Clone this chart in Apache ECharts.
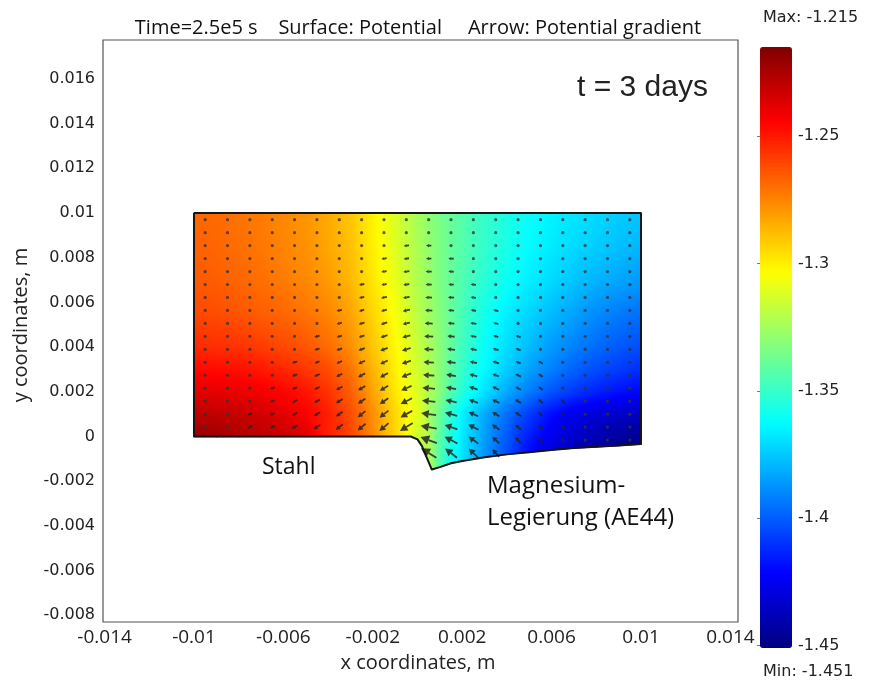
<!DOCTYPE html>
<html><head><meta charset="utf-8">
<script src="https://cdn.jsdelivr.net/npm/echarts@6/dist/echarts.min.js"></script>
<style>html,body{margin:0;padding:0;background:#fff}#c{width:870px;height:684px}</style>
</head><body><div id="c"></div>
<script>
// ---------------- data ----------------
const xTicks = [-0.014, -0.01, -0.006, -0.002, 0.002, 0.006, 0.01, 0.014];
const yTicks = [-0.008, -0.006, -0.004, -0.002, 0, 0.002, 0.004, 0.006, 0.008, 0.01, 0.012, 0.014, 0.016];
const cbTicks = [-1.45, -1.4, -1.35, -1.3, -1.25];
const potMin = -1.451, potMax = -1.215;

// surface nodes (m): columns and row levels; last row = lower boundary of the domain
const xNodes = [-0.01,-0.009,-0.008,-0.007,-0.006,-0.005,-0.004,-0.003,-0.002,-0.0015,-0.001,-0.0005,-0.0003,0,0.0002,0.00064,0.001,0.0015,0.002,0.003,0.004,0.005,0.006,0.007,0.008,0.009,0.01];
const yRows = [0.01, 0.0085, 0.007, 0.0055, 0.004, 0.003, 0.002, 0.001];
const bottomY = [0,0,0,0,0,0,0,0,0,0,0,0,0,-0.00013,-0.00043,-0.00148,-0.00137,-0.0012,-0.0011,-0.00093,-0.0008,-0.0007,-0.0006,-0.00052,-0.00046,-0.0004,-0.00034];
// potential (V) at nodes, rows top -> bottom boundary
const potential = [
 [-1.268,-1.269,-1.271,-1.273,-1.276,-1.279,-1.284,-1.290,-1.301,-1.306,-1.312,-1.318,-1.320,-1.324,-1.326,-1.331,-1.335,-1.339,-1.343,-1.350,-1.356,-1.361,-1.365,-1.368,-1.371,-1.374,-1.376],
 [-1.267,-1.268,-1.270,-1.272,-1.275,-1.278,-1.283,-1.289,-1.300,-1.305,-1.311,-1.317,-1.319,-1.323,-1.325,-1.330,-1.334,-1.339,-1.343,-1.351,-1.357,-1.363,-1.367,-1.371,-1.374,-1.377,-1.379],
 [-1.265,-1.266,-1.268,-1.270,-1.273,-1.276,-1.280,-1.287,-1.298,-1.303,-1.309,-1.315,-1.318,-1.322,-1.324,-1.329,-1.334,-1.339,-1.344,-1.353,-1.360,-1.366,-1.371,-1.376,-1.380,-1.383,-1.386],
 [-1.261,-1.262,-1.264,-1.266,-1.268,-1.271,-1.275,-1.282,-1.294,-1.299,-1.305,-1.312,-1.315,-1.319,-1.322,-1.327,-1.332,-1.339,-1.346,-1.358,-1.366,-1.372,-1.378,-1.384,-1.389,-1.393,-1.396],
 [-1.254,-1.255,-1.256,-1.258,-1.261,-1.264,-1.269,-1.277,-1.290,-1.296,-1.302,-1.309,-1.312,-1.316,-1.319,-1.325,-1.331,-1.340,-1.348,-1.361,-1.370,-1.378,-1.386,-1.392,-1.397,-1.401,-1.404],
 [-1.246,-1.247,-1.248,-1.250,-1.253,-1.257,-1.262,-1.271,-1.286,-1.293,-1.300,-1.307,-1.310,-1.314,-1.317,-1.324,-1.331,-1.341,-1.350,-1.363,-1.374,-1.384,-1.392,-1.399,-1.404,-1.408,-1.411],
 [-1.238,-1.239,-1.240,-1.242,-1.245,-1.249,-1.256,-1.266,-1.282,-1.290,-1.298,-1.305,-1.308,-1.312,-1.315,-1.324,-1.332,-1.344,-1.354,-1.369,-1.382,-1.393,-1.402,-1.409,-1.414,-1.418,-1.421],
 [-1.229,-1.230,-1.231,-1.234,-1.238,-1.244,-1.251,-1.262,-1.277,-1.286,-1.294,-1.302,-1.305,-1.309,-1.313,-1.328,-1.338,-1.353,-1.365,-1.382,-1.396,-1.408,-1.419,-1.426,-1.431,-1.434,-1.436],
 [-1.220,-1.222,-1.226,-1.229,-1.232,-1.237,-1.252,-1.260,-1.276,-1.286,-1.294,-1.303,-1.308,-1.316,-1.321,-1.327,-1.345,-1.360,-1.369,-1.387,-1.404,-1.420,-1.430,-1.437,-1.443,-1.447,-1.450]
];

// potential gradient arrows: grid positions (m), direction (deg) and length (1e-5 m)
const arrowX = [-0.0095,-0.0085,-0.0075,-0.0065,-0.0055,-0.0045,-0.0035,-0.0025,-0.0015,-0.0005,0.0005,0.0015,0.0025,0.0035,0.0045,0.0055,0.0065,0.0075,0.0085,0.0095];
const arrowY = [0.0097,0.00912,0.00854,0.00796,0.00738,0.0068,0.00622,0.00564,0.00506,0.00448,0.0039,0.00332,0.00274,0.00216,0.00158,0.001,0.00042,-0.00016,-0.00074];
const N = null;
const arrowAngle = [
 [182,182,183,183,184,184,185,185,185,184,179,177,175,172,169,165,160,155,150,145],
 [182,183,183,184,184,185,186,186,186,185,179,177,175,172,168,165,160,155,150,145],
 [183,183,184,184,185,186,187,187,187,186,179,177,174,171,168,164,159,154,149,144],
 [183,184,184,185,186,187,188,188,188,187,179,176,174,170,167,163,158,153,148,143],
 [184,185,185,186,187,188,189,190,190,188,179,176,173,170,166,162,157,152,147,142],
 [185,185,186,187,188,189,190,191,191,189,179,176,172,169,165,161,156,151,146,141],
 [185,186,187,188,189,190,192,193,193,190,179,176,172,168,164,160,155,150,145,140],
 [186,187,188,189,190,192,193,195,195,191,178,175,171,167,163,158,153,148,143,138],
 [187,188,189,190,192,193,195,197,197,193,178,175,171,166,162,157,152,147,142,137],
 [188,189,190,192,193,195,197,199,199,195,177,174,169,164,160,155,150,145,140,135],
 [189,190,191,193,195,197,200,202,202,197,177,173,168,163,158,153,148,143,138,133],
 [190,191,192,194,197,199,203,205,205,199,176,172,166,161,156,150,145,140,135,130],
 [191,192,194,196,199,202,206,208,208,202,176,171,165,159,154,148,143,138,133,128],
 [192,194,196,198,201,205,209,211,211,204,175,169,162,156,151,145,140,135,130,125],
 [194,196,198,201,204,208,212,215,215,207,174,167,160,154,148,142,137,132,127,122],
 [196,198,200,203,207,211,215,218,218,209,172,164,156,150,144,138,133,128,123,118],
 [198,200,203,206,210,214,218,221,221,212,170,161,153,146,140,135,130,125,120,115],
 [N,N,N,N,N,N,N,N,N,N,160,152,144,138,133,128,123,118,114,110],
 [N,N,N,N,N,N,N,N,N,N,148,142,136,131,N,N,N,N,N,N]
];
const arrowLen = [
 [9,9,9,9,9,11,11,13,13,13,13,13,13,11,11,9,9,9,9,9],
 [9,9,9,9,9,11,11,13,13,13,13,13,13,11,11,9,9,9,9,9],
 [9,9,9,9,11,11,13,13,13,16,16,13,13,11,11,9,9,9,9,9],
 [9,9,9,9,11,11,13,13,16,16,16,16,13,13,11,11,9,9,9,9],
 [9,9,9,11,11,11,13,13,16,18,18,16,13,13,11,11,9,9,9,9],
 [9,9,9,11,11,13,13,16,16,18,18,16,16,13,11,11,9,9,9,9],
 [9,9,11,11,11,13,13,16,18,20,20,18,16,13,13,11,11,9,9,9],
 [9,9,11,11,13,13,16,16,18,22,22,18,16,16,13,11,11,9,9,9],
 [9,11,11,11,13,13,16,18,20,22,24,20,18,16,13,13,11,9,9,9],
 [9,11,11,13,13,16,16,18,22,25,27,22,18,16,16,13,11,11,9,9],
 [11,11,11,13,13,16,18,20,24,27,29,24,20,18,16,13,11,11,9,9],
 [11,11,13,13,16,16,18,22,25,29,31,27,22,20,16,16,13,11,11,9],
 [11,11,13,13,16,18,20,24,27,31,34,29,24,20,18,16,13,11,11,9],
 [11,13,13,16,16,18,22,25,29,34,38,31,27,22,18,16,13,13,11,11],
 [11,13,13,16,18,20,24,27,31,38,40,34,29,24,20,18,16,13,11,11],
 [13,13,16,16,18,22,25,29,34,40,45,38,31,25,22,18,16,13,11,11],
 [13,13,16,18,20,24,27,31,36,45,49,40,34,27,22,20,16,13,13,11],
 [N,N,N,N,N,N,N,N,N,N,52,43,36,29,24,20,16,13,13,11],
 [N,N,N,N,N,N,N,N,N,N,54,45,38,31,N,N,N,N,N,N]
];

// ---------------- helpers ----------------
const jetStops = ['#000080','#0000ff','#0080ff','#00ffff','#80ff80','#ffff00','#ff8000','#ff0000','#800000'];
const jetRGB = jetStops.map(h => [parseInt(h.slice(1,3),16), parseInt(h.slice(3,5),16), parseInt(h.slice(5,7),16)]);
function jet(v) {
  let t = (v - potMin) / (potMax - potMin);
  t = Math.max(0, Math.min(1, t)) * (jetRGB.length - 1);
  const k = Math.min(jetRGB.length - 2, Math.floor(t)), f = t - k;
  const a = jetRGB[k], b = jetRGB[k + 1];
  return 'rgb(' + Math.round(a[0] + (b[0]-a[0])*f) + ',' + Math.round(a[1] + (b[1]-a[1])*f) + ',' + Math.round(a[2] + (b[2]-a[2])*f) + ')';
}
function nodeY(j, i) { return j < yRows.length ? yRows[j] : bottomY[i]; }

const cells = [];
for (let j = 0; j < potential.length - 1; j++) {
  for (let i = 0; i < xNodes.length - 1; i++) {
    const vAvg = (potential[j][i] + potential[j][i+1] + potential[j+1][i] + potential[j+1][i+1]) / 4;
    cells.push([(xNodes[i] + xNodes[i+1]) / 2, (nodeY(j,i) + nodeY(j+1,i)) / 2, i, j, vAvg]);
  }
}
const arrows = [];
for (let r = 0; r < arrowY.length; r++) {
  for (let c = 0; c < arrowX.length; c++) {
    if (arrowLen[r][c] != null) arrows.push([arrowX[c], arrowY[r], arrowAngle[r][c], arrowLen[r][c]]);
  }
}
const outline = [[-0.01, 0.01], [0.01, 0.01]];
for (let i = xNodes.length - 1; i >= 0; i--) outline.push([xNodes[i], bottomY[i]]);
outline.push([-0.01, 0.01]);

function triangle(P, V) {
  const p0 = P[0], e1 = [P[1][0]-p0[0], P[1][1]-p0[1]], e2 = [P[2][0]-p0[0], P[2][1]-p0[1]];
  const d1 = V[1]-V[0], d2 = V[2]-V[0];
  const det = e1[0]*e2[1] - e1[1]*e2[0];
  let fill;
  if (Math.abs(det) < 1e-9) fill = jet((V[0]+V[1]+V[2])/3);
  else {
    const gx = (d1*e2[1] - e1[1]*d2) / det, gy = (e1[0]*d2 - e2[0]*d1) / det;
    const gm = Math.hypot(gx, gy);
    if (gm < 1e-12) fill = jet(V[0]);
    else {
      const nx = gx/gm, ny = gy/gm;
      let tmin = Infinity, tmax = -Infinity;
      P.forEach(p => { const t = nx*(p[0]-p0[0]) + ny*(p[1]-p0[1]); tmin = Math.min(tmin, t); tmax = Math.max(tmax, t); });
      tmin -= 1; tmax += 1;
      const va = V[0] + gm*tmin, vb = V[0] + gm*tmax;
      const stops = [];
      const ns = 10;
      for (let k = 0; k <= ns; k++) stops.push({offset: k/ns, color: jet(va + (vb-va)*k/ns)});
      fill = {type: 'linear', x: p0[0]+nx*tmin, y: p0[1]+ny*tmin, x2: p0[0]+nx*tmax, y2: p0[1]+ny*tmax, colorStops: stops, global: true};
    }
  }
  return {type: 'polygon', shape: {points: P}, style: {fill: fill, stroke: fill, lineWidth: 1.4, lineJoin: 'round'}, silent: true};
}

const fmt = v => String(+(+v).toFixed(4));
const arrowScale = 1.5;

const chart = echarts.init(document.getElementById('c'), null, {renderer: 'canvas'});
chart.setOption({
  animation: false,
  backgroundColor: '#fff',
  grid: [
    {left: 103, top: 40, width: 635, height: 582, show: true, borderColor: '#555', borderWidth: 1.2, backgroundColor: '#fff'},
    {left: 760, top: 47, width: 32, height: 601, show: false}
  ],
  xAxis: [
    {type: 'value', gridIndex: 0, min: -0.014071, max: 0.01434, axisLine: {show: false}, axisTick: {show: false}, splitLine: {show: false},
     axisLabel: {customValues: xTicks, formatter: fmt, fontFamily: 'Open Sans', fontSize: 19, color: '#222', margin: 6}},
    {type: 'value', gridIndex: 1, min: 0, max: 1, show: false}
  ],
  yAxis: [
    {type: 'value', gridIndex: 0, min: -0.0083, max: 0.01774, axisLine: {show: false}, axisTick: {show: false}, splitLine: {show: false},
     axisLabel: {customValues: yTicks, formatter: fmt, fontFamily: 'DejaVu Sans', fontSize: 16, color: '#222', margin: 8}},
    {type: 'value', gridIndex: 1, position: 'right', min: potMin, max: potMax, axisLine: {show: false}, splitLine: {show: false},
     axisTick: {show: true, customValues: cbTicks, length: 5, lineStyle: {color: '#777'}},
     axisLabel: {customValues: cbTicks, formatter: v => String(+(+v).toFixed(3)), fontFamily: 'DejaVu Sans', fontSize: 16, color: '#222', margin: 6}},
    {type: 'value', gridIndex: 1, position: 'left', min: potMin, max: potMax, axisLine: {show: false}, splitLine: {show: false},
     axisTick: {show: true, customValues: cbTicks, length: 3, lineStyle: {color: '#777'}}, axisLabel: {show: false}}
  ],
  visualMap: {
    type: 'continuous', min: potMin, max: potMax, seriesIndex: 0, dimension: 4,
    left: 760, top: 47, padding: 0, itemWidth: 32, itemHeight: 601, calculable: false, hoverLink: false,
    inRange: {color: jetStops}, text: null, showLabel: false
  },
  graphic: [
    {type: 'text', x: 418, y: 28, style: {text: 'Time=2.5e5 s    Surface: Potential     Arrow: Potential gradient', fontFamily: 'Open Sans', fontSize: 20, fill: '#111', align: 'center', verticalAlign: 'middle'}},
    {type: 'text', x: 577, y: 88, style: {text: 't = 3 days', fontFamily: 'Liberation Sans', fontSize: 30, fill: '#222', align: 'left', verticalAlign: 'middle'}},
    {type: 'text', x: 262, y: 467, style: {text: 'Stahl', fontFamily: 'Open Sans', fontSize: 23, fill: '#111', align: 'left', verticalAlign: 'middle'}},
    {type: 'text', x: 487, y: 486, style: {text: 'Magnesium-', fontFamily: 'Open Sans', fontSize: 24, fill: '#111', align: 'left', verticalAlign: 'middle'}},
    {type: 'text', x: 487, y: 518, style: {text: 'Legierung (AE44)', fontFamily: 'Open Sans', fontSize: 24, fill: '#111', align: 'left', verticalAlign: 'middle'}},
    {type: 'text', x: 763, y: 18, style: {text: 'Max: -1.215', fontFamily: 'DejaVu Sans', fontSize: 16, fill: '#222', align: 'left', verticalAlign: 'middle'}},
    {type: 'text', x: 763, y: 672, style: {text: 'Min: -1.451', fontFamily: 'DejaVu Sans', fontSize: 16, fill: '#222', align: 'left', verticalAlign: 'middle'}},
    {type: 'text', x: 418, y: 663, style: {text: 'x coordinates, m', fontFamily: 'Open Sans', fontSize: 20, fill: '#222', align: 'center', verticalAlign: 'middle'}},
    {type: 'text', x: 21, y: 325, rotation: Math.PI / 2, style: {text: 'y coordinates, m', fontFamily: 'Open Sans', fontSize: 20, fill: '#222', align: 'center', verticalAlign: 'middle'}}
  ],
  series: [
    {
      type: 'custom', xAxisIndex: 0, yAxisIndex: 0, coordinateSystem: 'cartesian2d', silent: true, clip: true, z: 1,
      encode: {x: 0, y: 1},
      data: cells,
      renderItem: function (params, api) {
        const i = api.value(2), j = api.value(3);
        const P00 = api.coord([xNodes[i], nodeY(j, i)]), P10 = api.coord([xNodes[i+1], nodeY(j, i+1)]);
        const P01 = api.coord([xNodes[i], nodeY(j+1, i)]), P11 = api.coord([xNodes[i+1], nodeY(j+1, i+1)]);
        const v00 = potential[j][i], v10 = potential[j][i+1], v01 = potential[j+1][i], v11 = potential[j+1][i+1];
        return {type: 'group', children: [
          triangle([P00, P10, P11], [v00, v10, v11]),
          triangle([P00, P11, P01], [v00, v11, v01])
        ]};
      }
    },
    {
      type: 'custom', xAxisIndex: 0, yAxisIndex: 0, coordinateSystem: 'cartesian2d', silent: true, z: 3,
      encode: {x: 0, y: 1},
      data: arrows,
      renderItem: function (params, api) {
        const p = api.coord([api.value(0), api.value(1)]);
        const L = api.size([api.value(3) * 1e-5, 0])[0] * arrowScale;
        const a = api.value(2) * Math.PI / 180;
        const col = 'rgba(35,35,35,0.85)';
        if (L < 4.5) return {type: 'circle', shape: {cx: p[0], cy: p[1], r: 1.6}, style: {fill: 'rgba(50,50,50,0.8)'}};
        const dx = Math.cos(a), dy = -Math.sin(a);
        const tail = [p[0] - dx*L/2, p[1] - dy*L/2], tip = [p[0] + dx*L/2, p[1] + dy*L/2];
        const hl = Math.max(3, L * 0.5), hw = hl * 0.55;
        const base = [tip[0] - dx*hl, tip[1] - dy*hl];
        const nx = -dy, ny = dx;
        return {type: 'group', children: [
          {type: 'line', shape: {x1: tail[0], y1: tail[1], x2: base[0], y2: base[1]}, style: {stroke: col, lineWidth: 1.8}},
          {type: 'polygon', shape: {points: [tip, [base[0]+nx*hw, base[1]+ny*hw], [base[0]-nx*hw, base[1]-ny*hw]]}, style: {fill: col}}
        ]};
      }
    },
    {
      type: 'line', xAxisIndex: 0, yAxisIndex: 0, data: outline, showSymbol: false, symbol: 'none', silent: true, z: 4,
      lineStyle: {color: '#151515', width: 2}
    }
  ]
});
</script>
</body></html>
